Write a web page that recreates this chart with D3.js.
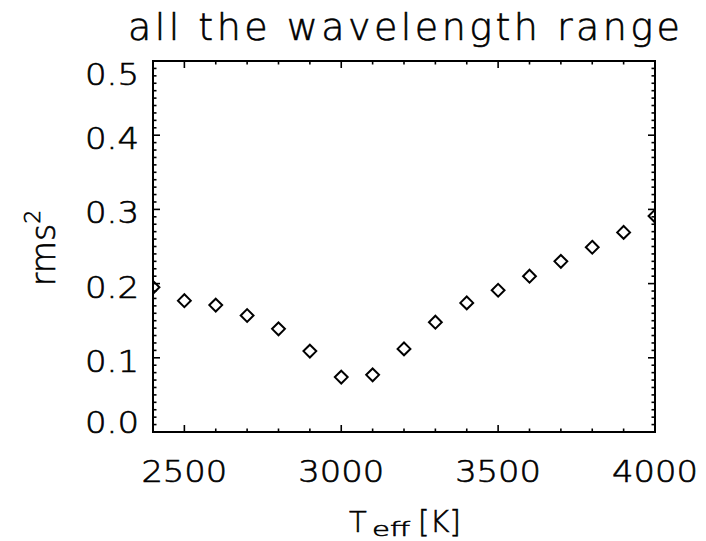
<!DOCTYPE html>
<html>
<head>
<meta charset="utf-8">
<script src="https://cdn.jsdelivr.net/npm/d3@7"></script>
<style>
  html, body { margin: 0; padding: 0; background: #fff; }
  svg { display: block; }
  text { font-family: "DejaVu Sans", "Noto Sans", sans-serif; font-weight: 200; fill: #000; stroke: #000; stroke-width: 0.6; }
</style>
</head>
<body>
<svg id="chart" width="706" height="541"></svg>
<script>
// ---- data ----
const teff = [2400, 2500, 2600, 2700, 2800, 2900, 3000, 3100, 3200, 3300, 3400, 3500, 3600, 3700, 3800, 3900, 4000];
const rms2 = [0.195, 0.177, 0.171, 0.157, 0.139, 0.109, 0.074, 0.077, 0.112, 0.148, 0.174, 0.191, 0.210, 0.230, 0.249, 0.269, 0.291];
const xTicks = [2500, 3000, 3500, 4000];
const yTicks = [0.0, 0.1, 0.2, 0.3, 0.4, 0.5];
const titleText = "all the wavelength range";

// ---- layout ----
const svg = d3.select("#chart");
const L = 153, R = 655, T = 61, B = 432;
const x = d3.scaleLinear().domain([2400, 4000]).range([L, R]);
const y = d3.scaleLinear().domain([0, 0.5]).range([B, T]);

svg.append("defs").append("clipPath").attr("id", "clip")
  .append("rect").attr("x", L).attr("y", T).attr("width", R - L).attr("height", B - T);

// ticks
const g = svg.append("g").attr("stroke", "#000").attr("stroke-width", 1.6).attr("fill", "none");
d3.range(2400, 4001, 100).forEach(v => {
  const len = (v % 500 === 0) ? 7 : 3.5;
  g.append("line").attr("x1", x(v)).attr("x2", x(v)).attr("y1", B).attr("y2", B - len);
  g.append("line").attr("x1", x(v)).attr("x2", x(v)).attr("y1", T).attr("y2", T + len);
});
d3.range(0, 51, 1).forEach(i => {
  const v = i / 100;
  const len = (i % 10 === 0) ? 7 : 3.5;
  g.append("line").attr("x1", L).attr("x2", L + len).attr("y1", y(v)).attr("y2", y(v));
  g.append("line").attr("x1", R).attr("x2", R - len).attr("y1", y(v)).attr("y2", y(v));
});

// frame
svg.append("rect").attr("x", L).attr("y", T).attr("width", R - L).attr("height", B - T)
  .attr("fill", "none").attr("stroke", "#000").attr("stroke-width", 2);

// points (diamonds)
const sym = d3.symbol().type(d3.symbolDiamond2).size(105);
svg.append("g").attr("clip-path", "url(#clip)")
  .selectAll("path").data(teff.map((t, i) => [t, rms2[i]])).join("path")
  .attr("d", sym)
  .attr("transform", d => `translate(${x(d[0])},${y(d[1])})`)
  .attr("fill", "none").attr("stroke", "#000").attr("stroke-width", 2);

// x tick labels
svg.append("g").selectAll("text").data(xTicks).join("text")
  .attr("x", d => x(d) - 43).attr("y", 482)
  .attr("font-size", 30)
  .attr("textLength", 86).attr("lengthAdjust", "spacingAndGlyphs")
  .text(d => d);

// y tick labels
svg.append("g").selectAll("text").data(yTicks).join("text")
  .attr("x", 85)
  .attr("y", (d, i) => {
    if (i === 0) return B + 1;
    if (i === yTicks.length - 1) return T + 24;
    return y(d) + 14;
  })
  .attr("font-size", 30)
  .attr("textLength", 54).attr("lengthAdjust", "spacingAndGlyphs")
  .text(d => d.toFixed(1));

// title
svg.append("text").attr("x", 128).attr("y", 40)
  .attr("font-size", 38)
  .attr("textLength", 552).attr("lengthAdjust", "spacing")
  .text(titleText);

// x axis title
const xtg = svg.append("g");
xtg.append("text").attr("x", 349).attr("y", 532).attr("font-size", 29).text("T");
xtg.append("text").attr("x", 372).attr("y", 536).attr("font-size", 20)
  .attr("textLength", 38).attr("lengthAdjust", "spacingAndGlyphs").text("eff");
xtg.append("text").attr("x", 418).attr("y", 532).attr("font-size", 31)
  .attr("textLength", 43).attr("lengthAdjust", "spacingAndGlyphs").text("[K]");

// y axis title
const yt = svg.append("text")
  .attr("transform", "translate(55,248) rotate(-90)")
  .attr("text-anchor", "middle").attr("font-size", 33);
yt.append("tspan").text("rms");
yt.append("tspan").attr("font-size", 22).attr("dy", -15).text("2");
</script>
</body>
</html>
